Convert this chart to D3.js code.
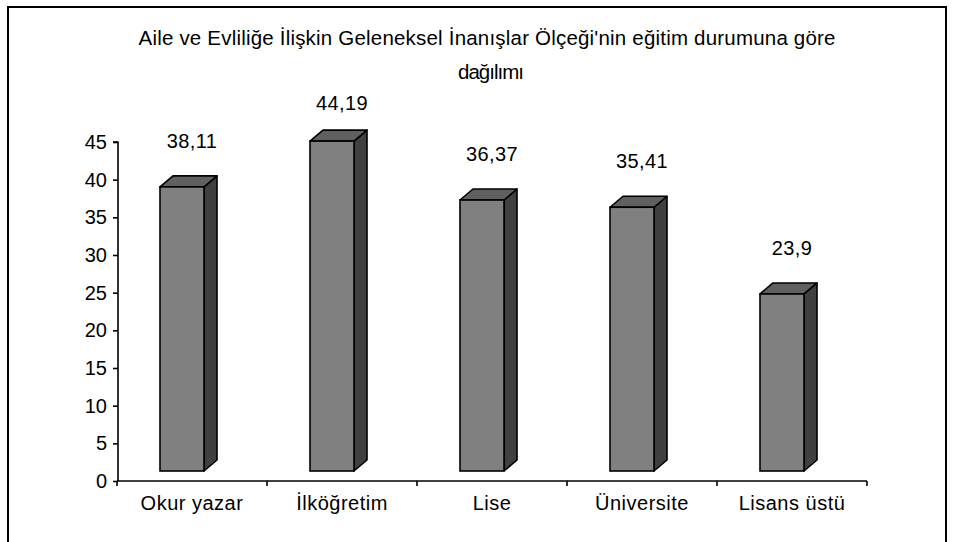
<!DOCTYPE html>
<html>
<head>
<meta charset="utf-8">
<script src="https://cdn.jsdelivr.net/npm/d3@7"></script>
<style>
  html, body { margin: 0; padding: 0; background: #fff; }
  svg { display: block; }
  text { font-family: "Liberation Sans", Arial, sans-serif; fill: #000; }
</style>
</head>
<body>
<svg id="chart" width="956" height="542"></svg>
<script>
const categories = ["Okur yazar", "İlköğretim", "Lise", "Üniversite", "Lisans üstü"];
const values = [38.11, 44.19, 36.37, 35.41, 23.9];
const valueLabels = ["38,11", "44,19", "36,37", "35,41", "23,9"];
const yTicks = [0, 5, 10, 15, 20, 25, 30, 35, 40, 45];
const titleLines = ["Aile ve Evliliğe İlişkin Geleneksel İnanışlar Ölçeği'nin eğitim durumuna göre", "dağılımı"];

const svg = d3.select("#chart");

// outer frame
svg.append("rect").attr("x", 8).attr("y", 7).attr("width", 938).attr("height", 560)
  .attr("fill", "#fff").attr("stroke", "#000").attr("stroke-width", 2);

const x0 = 117, x1 = 867, yBase = 481, yTop = 142;
const x = d3.scaleBand().domain(categories).range([x0, x1]).paddingInner(0).paddingOuter(0);
const y = d3.scaleLinear().domain([0, 45]).range([yBase, yTop]);

// title
const title = svg.append("text").attr("text-anchor", "middle").style("font-size", "20.5px");
title.append("tspan").attr("x", 487).attr("y", 45).attr("textLength", 697).attr("lengthAdjust", "spacing").text(titleLines[0]);
title.append("tspan").attr("x", 491).attr("y", 79).attr("textLength", 66).attr("lengthAdjust", "spacing").text(titleLines[1]);

// bars (3D)
const depthX = 13, depthY = -11, floor = 10, topOff = 7, frontW = 44;
const g = svg.append("g");
categories.forEach((c, i) => {
  const cx = x(c) + x.bandwidth() / 2;
  const l = cx - 32, r = l + frontW;
  const b = y(0) - floor, t = y(values[i]) - topOff;
  g.append("path").attr("d", `M${r},${b}L${r + depthX},${b + depthY}L${r + depthX},${t + depthY}L${r},${t}Z`)
    .attr("fill", "#404040").attr("stroke", "#000").attr("stroke-width", 1.6).attr("stroke-linejoin", "round");
  g.append("path").attr("d", `M${l},${t}L${l + depthX},${t + depthY}L${r + depthX},${t + depthY}L${r},${t}Z`)
    .attr("fill", "#606060").attr("stroke", "#000").attr("stroke-width", 1.6).attr("stroke-linejoin", "round");
  g.append("rect").attr("x", l).attr("y", t).attr("width", frontW).attr("height", b - t)
    .attr("fill", "#808080").attr("stroke", "#000").attr("stroke-width", 1.6);
  const ly = Math.max(y(values[i]) - 53, 103);
  svg.append("text").attr("x", cx).attr("y", ly + 7).attr("text-anchor", "middle")
    .style("font-size", "20px").style("letter-spacing", "0.4px").text(valueLabels[i]);
});

// y axis
const yAxis = d3.axisLeft(y).tickValues(yTicks).tickSize(5).tickPadding(6).tickFormat(d3.format("d"));
const ya = svg.append("g").attr("transform", `translate(${x0 + 1},0)`).call(yAxis);
ya.select(".domain").attr("stroke", "#000").attr("stroke-width", 1.6).attr("d", `M-5,${yTop}H0V${yBase}`);
ya.selectAll(".tick line").attr("stroke", "#000").attr("stroke-width", 1.6);
ya.selectAll(".tick text").style("font-size", "20px").style("font-family", "'Liberation Sans', Arial, sans-serif").attr("fill", "#000");

// x axis
const xAxis = d3.axisBottom(x).tickSize(0).tickPadding(0);
const xa = svg.append("g").attr("transform", `translate(0,${yBase})`).call(xAxis);
xa.select(".domain").attr("stroke", "#000").attr("stroke-width", 1.6).attr("d", `M${x0},0H${x1}`);
xa.selectAll(".tick text").attr("y", 29).attr("dy", 0)
  .style("font-size", "20px").style("letter-spacing", "0.5px").style("font-family", "'Liberation Sans', Arial, sans-serif").attr("fill", "#000");
const sepPos = categories.map(c => x(c)).concat([x1]);
xa.selectAll(".sep").data(sepPos).join("line").attr("class", "sep")
  .attr("x1", d => d).attr("x2", d => d).attr("y1", 0).attr("y2", 5)
  .attr("stroke", "#000").attr("stroke-width", 1.6);
</script>
</body>
</html>
